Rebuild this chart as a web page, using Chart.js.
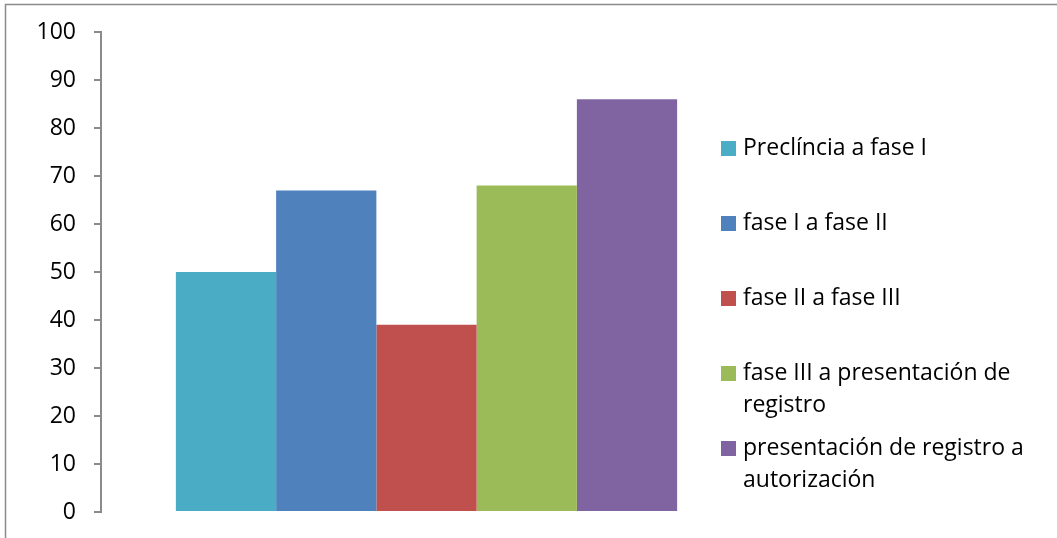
<!DOCTYPE html>
<html>
<head>
<meta charset="utf-8">
<script src="https://cdn.jsdelivr.net/npm/chart.js@4.4.1/dist/chart.umd.min.js"></script>
<style>
  html, body { margin: 0; padding: 0; background: #fff; }
  #wrap { width: 1057px; height: 538px; }
</style>
</head>
<body>
<div id="wrap"><canvas id="phase-chart" width="1057" height="538"></canvas></div>
<script>
// one group of bars, one bar per phase transition
const categories = [''];
const seriesNames = [
    'Preclíncia a fase I',
    'fase I a fase II',
    'fase II a fase III',
    'fase III a presentación de registro',
    'presentación de registro a autorización'
];
const seriesValues = [50, 67, 39, 68, 86];
const seriesColors = ['#4BACC6', '#4F81BD', '#C0504D', '#9BBB59', '#8064A2'];
const yTicks = [0, 10, 20, 30, 40, 50, 60, 70, 80, 90, 100];

const FONT = '"Open Sans", Lato, sans-serif';

// gray frame around the whole chart
const framePlugin = {
    id: 'frame',
    beforeDraw(chart) {
        const ctx = chart.ctx;
        ctx.save();
        ctx.strokeStyle = '#8a8a8a';
        ctx.lineWidth = 1.5;
        ctx.strokeRect(5.5, 4.5, 1200, 700);
        ctx.restore();
    }
};

// legend on the right, wrapping long names onto a second line
const sideLegend = {
    id: 'sideLegend',
    afterDraw(chart) {
        const ctx = chart.ctx;
        const boxX = 721, textX = 743, maxW = 305;
        const firstY = 148, step = 75, lineH = 32;
        ctx.save();
        ctx.font = '23px ' + FONT;
        ctx.textBaseline = 'middle';
        chart.data.datasets.forEach(function (ds, i) {
            const y = firstY + i * step;
            ctx.fillStyle = ds.backgroundColor;
            ctx.fillRect(boxX, y - 7, 15, 15);
            // word wrap
            const words = ds.label.split(' ');
            const lines = [];
            let cur = '';
            words.forEach(function (w) {
                const t = cur ? cur + ' ' + w : w;
                if (ctx.measureText(t).width > maxW && cur) {
                    lines.push(cur);
                    cur = w;
                } else {
                    cur = t;
                }
            });
            lines.push(cur);
            ctx.fillStyle = '#000';
            lines.forEach(function (ln, j) {
                ctx.fillText(ln, textX, y + j * lineH);
            });
        });
        ctx.restore();
    }
};

const datasets = seriesNames.map(function (name, i) {
    return {
        label: name,
        data: [seriesValues[i]],
        backgroundColor: seriesColors[i],
        borderWidth: 0,
        barPercentage: 1,
        categoryPercentage: 0.77
    };
});

new Chart(document.getElementById('phase-chart'), {
    type: 'bar',
    data: { labels: categories, datasets: datasets },
    options: {
        responsive: false,
        animation: false,
        layout: { padding: { left: 0, right: 305, top: 32, bottom: 26 } },
        plugins: {
            legend: { display: false },
            tooltip: { enabled: false }
        },
        scales: {
            x: { display: false },
            y: {
                min: 0,
                max: 100,
                afterBuildTicks(scale) {
                    scale.ticks = yTicks.map(function (v) { return { value: v }; });
                },
                afterFit(scale) {
                    scale.width = 101;
                    // labels fit inside the outer padding already
                    scale.paddingTop = 0;
                    scale.paddingBottom = 0;
                },
                border: { display: true, color: '#8a8a8a', width: 2 },
                grid: {
                    drawOnChartArea: false,
                    drawTicks: true,
                    tickLength: 7,
                    color: '#8a8a8a',
                    lineWidth: 2
                },
                ticks: {
                    padding: 18,
                    color: '#000',
                    font: { family: FONT, size: 23 }
                }
            }
        }
    },
    plugins: [framePlugin, sideLegend]
});
</script>
</body>
</html>
